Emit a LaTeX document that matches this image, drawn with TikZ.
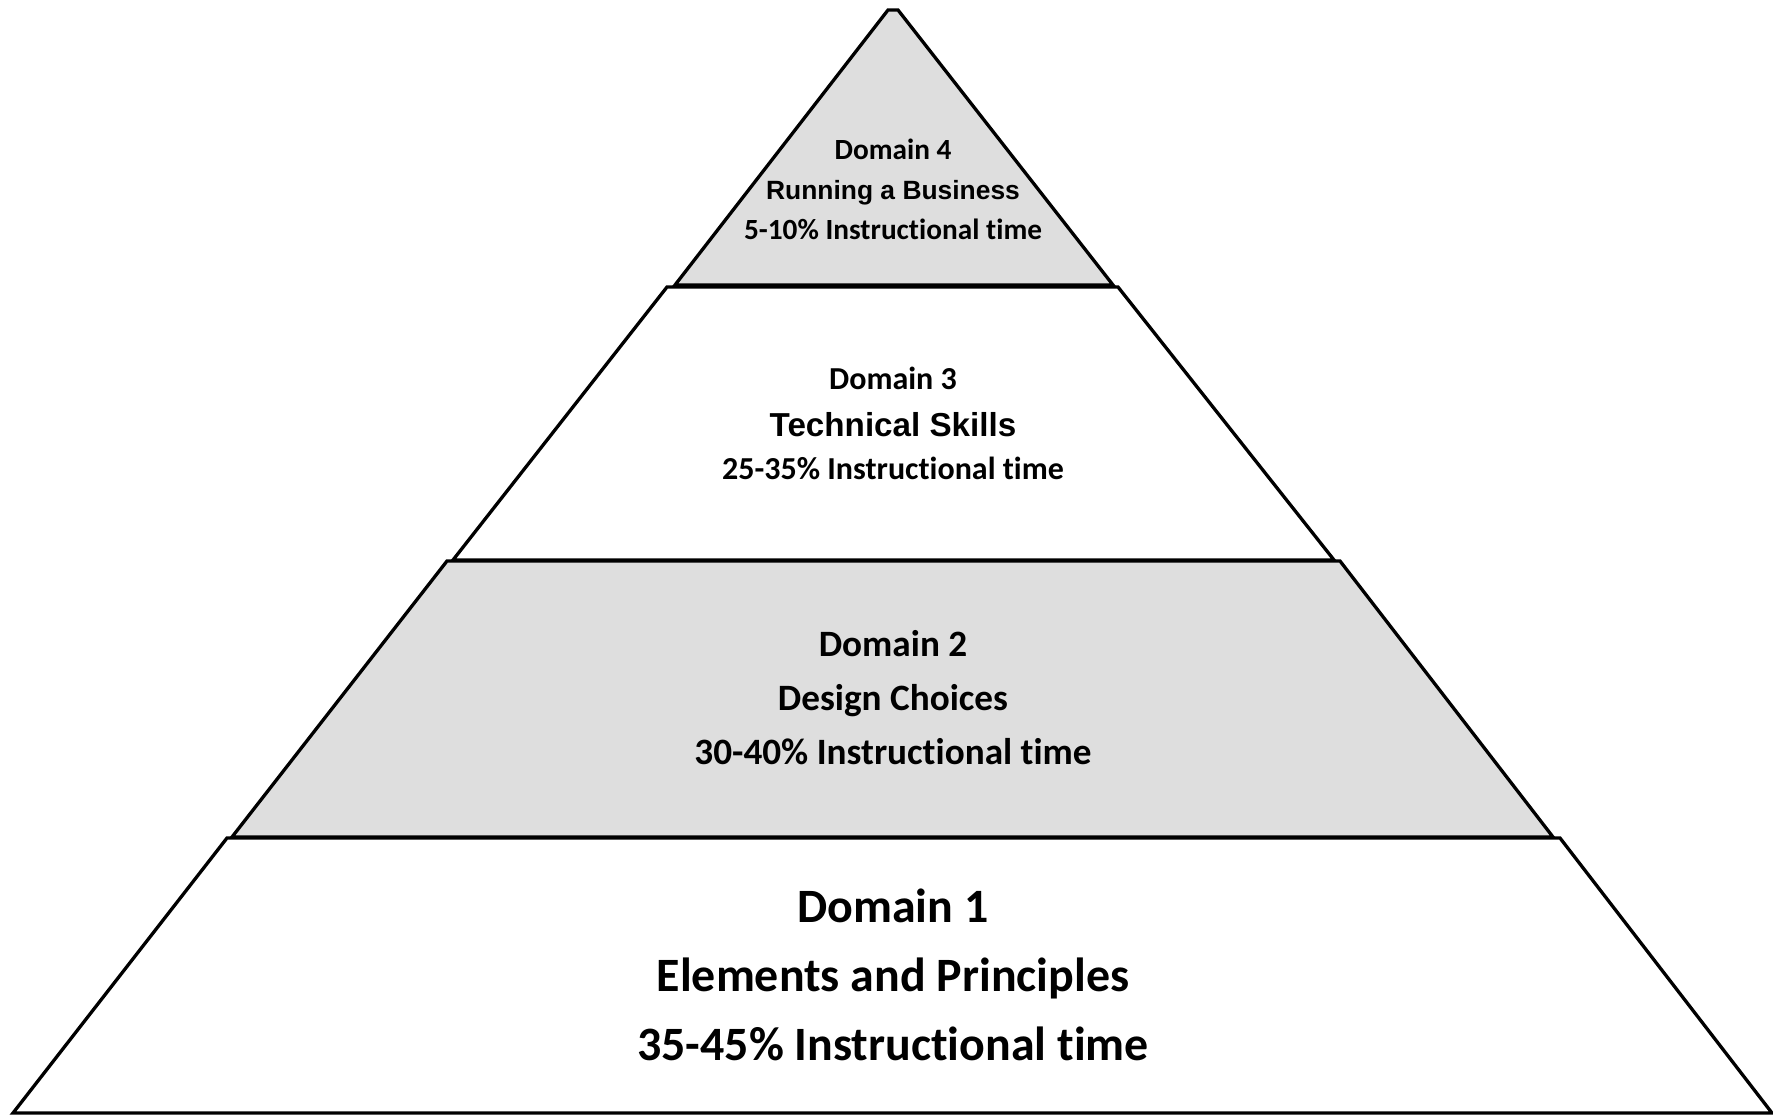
\documentclass[tikz,border=0pt]{standalone}
\usepackage{fontspec}
\setmainfont[RawFeature={-liga}]{Carlito}
\newfontfamily\arialf{Liberation Sans}
\definecolor{tiergray}{HTML}{DEDEDE}
\tikzset{
  tier/.style={draw=black, line width=3.3pt, line join=miter},
  lbl/.style={anchor=base, inner sep=0pt, font=\bfseries},
}
\newcommand{\fs}[1]{\fontsize{#1}{#1}\selectfont}
\begin{document}
\begin{tikzpicture}[x=1pt,y=-1pt]
\useasboundingbox (0,0) rectangle (1773,1115);
% tier 1 (bottom)
\path[tier, fill=white] (227,838) -- (1560,838) -- (1772,1113) -- (13,1113) -- cycle;
% tier 2
\path[tier, fill=tiergray] (447,561) -- (1340,561) -- (1553,837) -- (232,837) -- cycle;
% tier 3
\path[tier, fill=white] (667,287) -- (1118,287) -- (1334,560) -- (453,560) -- cycle;
% tier 4 (top)
\path[tier, fill=tiergray] (888,10) -- (898,10) -- (1113,285) -- (675,285) -- cycle;
% texts
\node[lbl, font=\bfseries\fs{29.3}] (d4a) at (893,159.5) {Domain 4};
\node[lbl, font=\bfseries\arialf\fs{26.4}] (d4b) at (893,199.5) {Running a Business};
\node[lbl, font=\bfseries\fs{29.3}] (d4c) at (893,240) {5-10\% Instructional time};
\node[lbl, font=\bfseries\fs{32}] (d3a) at (893,389) {Domain 3};
\node[lbl, font=\bfseries\arialf\fs{33.2}] (d3b) at (893,436) {Technical Skills};
\node[lbl, font=\bfseries\fs{32}] (d3c) at (893,479) {25-35\% Instructional time};
\node[lbl, font=\bfseries\fs{37.2}] (d2a) at (893,656) {Domain 2};
\node[lbl, font=\bfseries\fs{37.2}] (d2b) at (893,710) {Design Choices};
\node[lbl, font=\bfseries\fs{37.2}] (d2c) at (893,764) {30-40\% Instructional time};
\node[lbl, font=\bfseries\fs{47.9}] (d1a) at (893,922) {Domain 1};
\node[lbl, font=\bfseries\fs{47.9}] (d1b) at (893,991) {Elements and Principles};
\node[lbl, font=\bfseries\fs{47.9}] (d1c) at (893,1060) {35-45\% Instructional time};
\end{tikzpicture}
\end{document}
